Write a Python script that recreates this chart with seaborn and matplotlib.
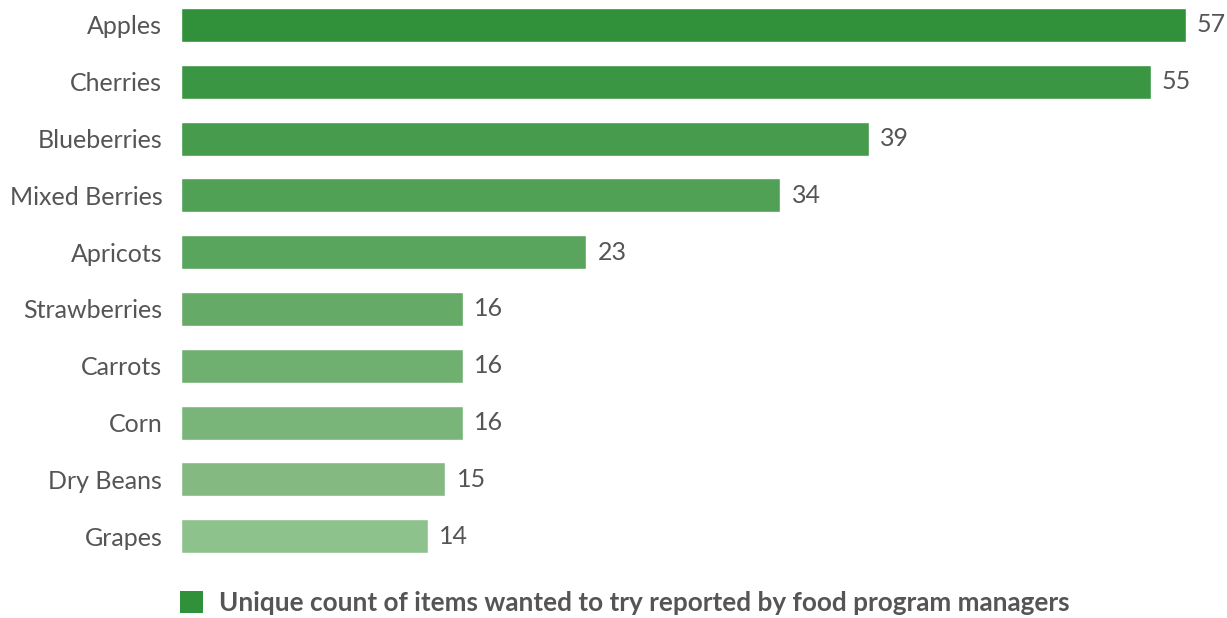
import matplotlib
matplotlib.use("Agg")
import matplotlib.pyplot as plt
import seaborn as sns
from matplotlib.patches import Patch

# data
items = ["Apples", "Cherries", "Blueberries", "Mixed Berries", "Apricots",
         "Strawberries", "Carrots", "Corn", "Dry Beans", "Grapes"]
counts = [57, 55, 39, 34, 23, 16, 16, 16, 15, 14]
legend_label = "Unique count of items wanted to try reported by food program managers"

# dark to light green, one per bar
greens = ["#31913A", "#3B9643", "#469B4C", "#50A055", "#5AA55E",
          "#65AA67", "#6FB070", "#79B579", "#84BA82", "#8EC28D"]

sns.set_style("white")
plt.rcParams["font.family"] = ["Lato", "DejaVu Sans"]
text_col = "#555555"
fs = 18

fig = plt.figure(figsize=(12.27, 6.18), dpi=100)
ax = fig.add_axes([181 / 1227, (618 - 570) / 618, 1046 / 1227, 570 / 618])

sns.barplot(x=counts, y=items, hue=items, palette=greens, legend=False,
            width=0.6, saturation=1, ax=ax)

for c in ax.containers:
    ax.bar_label(c, padding=8, fontsize=fs, color=text_col)

ax.set_xlim(0, 1046 / 17.63)
ax.set_ylim(9.595, -0.44)
ax.set_xticks([])
ax.set_xlabel("")
ax.set_ylabel("")
ax.tick_params(axis="y", length=0, pad=13.5, labelsize=fs, labelcolor=text_col)
sns.despine(ax=ax, left=True, bottom=True)

handle = Patch(facecolor=greens[0], edgecolor="none")
leg = fig.legend([handle], [legend_label], loc="center left",
                 bbox_to_anchor=(180 / 1227, 1 - 603 / 618), frameon=False,
                 borderaxespad=0, borderpad=0,
                 handlelength=0.87, handleheight=0.87, handletextpad=0.62,
                 prop={"weight": "bold", "size": 18.8})
for t in leg.get_texts():
    t.set_color(text_col)

fig.savefig("out.png", dpi=100)
